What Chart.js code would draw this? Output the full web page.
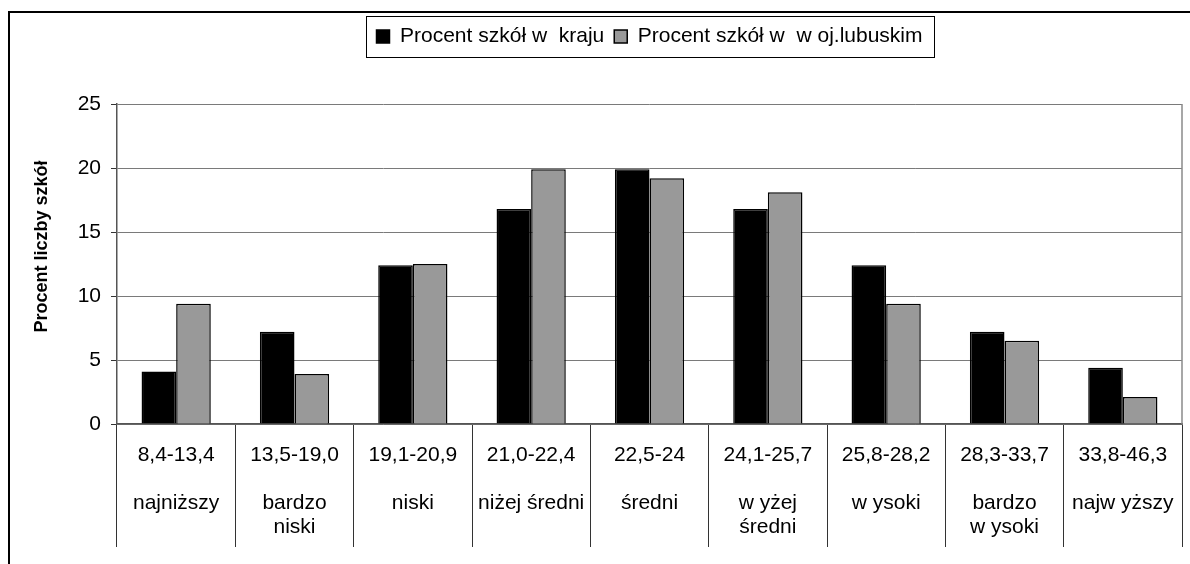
<!DOCTYPE html>
<html>
<head>
<meta charset="utf-8">
<script src="https://cdn.jsdelivr.net/npm/chart.js@4.4.1/dist/chart.umd.min.js"></script>
<style>
  html, body { margin: 0; padding: 0; background: #fff; overflow: hidden; }
  #wrap { position: relative; width: 1190px; height: 564px; }
</style>
</head>
<body>
<div id="wrap"><canvas id="chart" width="1190" height="564"></canvas></div>
<script>
var ranges = ["8,4-13,4", "13,5-19,0", "19,1-20,9", "21,0-22,4", "22,5-24",
              "24,1-25,7", "25,8-28,2", "28,3-33,7", "33,8-46,3"];
var levels = [["najniższy"], ["bardzo", "niski"], ["niski"], ["niżej średni"], ["średni"],
              ["w yżej", "średni"], ["w ysoki"], ["bardzo", "w ysoki"], ["najw yższy"]];
var kraj = [4.1, 7.2, 12.4, 16.8, 19.9, 16.8, 12.4, 7.2, 4.4];
var lubuskie = [9.4, 3.9, 12.5, 19.9, 19.2, 18.1, 9.4, 6.5, 2.1];
var yTicks = [0, 5, 10, 15, 20, 25];

var FONT = "'Liberation Sans', Arial, sans-serif";
var legendGap = 47;

var decor = {
    id: 'decor',
    beforeLayout: function (chart) {
        var lg = chart.legend;
        if (lg && !lg._patched) {
            var fit = lg.fit;
            lg.fit = function () {
                fit.call(this);
                this.height += legendGap;
            };
            lg._patched = true;
        }
    },
    beforeDraw: function (chart) {
        var ctx = chart.ctx;
        ctx.save();
        ctx.strokeStyle = '#000';
        ctx.lineWidth = 2;
        ctx.strokeRect(9, 12, 1400, 800);
        ctx.restore();
    },
    beforeDatasetsDraw: function (chart) {
        var a = chart.chartArea, ctx = chart.ctx;
        ctx.save();
        ctx.strokeStyle = '#8a8a8a';
        ctx.lineWidth = 1.5;
        ctx.beginPath();
        ctx.moveTo(a.right, a.top);
        ctx.lineTo(a.right, a.bottom);
        ctx.stroke();
        ctx.restore();
    },
    afterDraw: function (chart) {
        var boxes = chart.legend.legendHitBoxes;
        if (!boxes || !boxes.length) return;
        var l = Infinity, r = -Infinity, cy = 0;
        boxes.forEach(function (b) {
            l = Math.min(l, b.left);
            r = Math.max(r, b.left + b.width);
            cy += b.top + b.height / 2;
        });
        cy /= boxes.length;
        var ctx = chart.ctx;
        ctx.save();
        ctx.strokeStyle = '#000';
        ctx.lineWidth = 1;
        ctx.strokeRect(Math.round(l - 11) + 0.5, Math.round(cy - 20.5) + 0.5, Math.round(r - l + 22), 41);
        ctx.restore();
    }
};

var ctx = document.getElementById('chart').getContext('2d');
var chart = new Chart(ctx, {
    type: 'bar',
    data: {
        labels: ranges,
        datasets: [{
            label: 'Procent szkół w  kraju',
            data: kraj,
            backgroundColor: '#000000',
            borderColor: '#000000',
            borderWidth: 1.5,
            categoryPercentage: 0.585,
            barPercentage: 1
        }, {
            label: 'Procent szkół w  w oj.lubuskim',
            data: lubuskie,
            backgroundColor: '#999999',
            borderColor: '#000000',
            borderWidth: 1.5,
            categoryPercentage: 0.585,
            barPercentage: 1
        }]
    },
    options: {
        responsive: false,
        animation: false,
        layout: { padding: { left: 17, right: 8, top: 16, bottom: 0 } },
        plugins: {
            legend: {
                position: 'top',
                fullSize: false,
                labels: {
                    color: '#000',
                    font: { family: FONT, size: 21 },
                    boxWidth: 13,
                    boxHeight: 13,
                    padding: 10
                }
            },
            tooltip: { enabled: false }
        },
        scales: {
            x: {
                offset: true,
                grid: {
                    offset: true,
                    drawOnChartArea: false,
                    drawTicks: true,
                    tickLength: 123,
                    color: '#333',
                    lineWidth: 1
                },
                border: { color: '#555', width: 1.5 },
                ticks: {
                    autoSkip: false,
                    maxRotation: 0,
                    padding: -104,
                    color: '#000',
                    font: { family: FONT, size: 21, lineHeight: '24px' },
                    callback: function (value, index) {
                        var lines = [ranges[index], ''].concat(levels[index]);
                        while (lines.length < 4) lines.push('');
                        return lines;
                    }
                },
                afterFit: function (s) { s.height = 140; }
            },
            y: {
                min: 0,
                max: 25,
                afterBuildTicks: function (s) {
                    s.ticks = yTicks.map(function (v) { return { value: v }; });
                },
                grid: { color: '#7a7a7a', lineWidth: 1, tickLength: 6, tickColor: '#333' },
                border: { color: '#555', width: 1.5 },
                ticks: {
                    padding: 10,
                    color: '#000',
                    font: { family: FONT, size: 21 }
                },
                title: {
                    display: true,
                    text: '       Procent liczby szkół',
                    color: '#000',
                    font: { family: FONT, size: 18, weight: 'bold' },
                    padding: { top: 14, bottom: 0 }
                },
                afterFit: function (s) { s.width = 100; }
            }
        }
    },
    plugins: [decor]
});
</script>
</body>
</html>
